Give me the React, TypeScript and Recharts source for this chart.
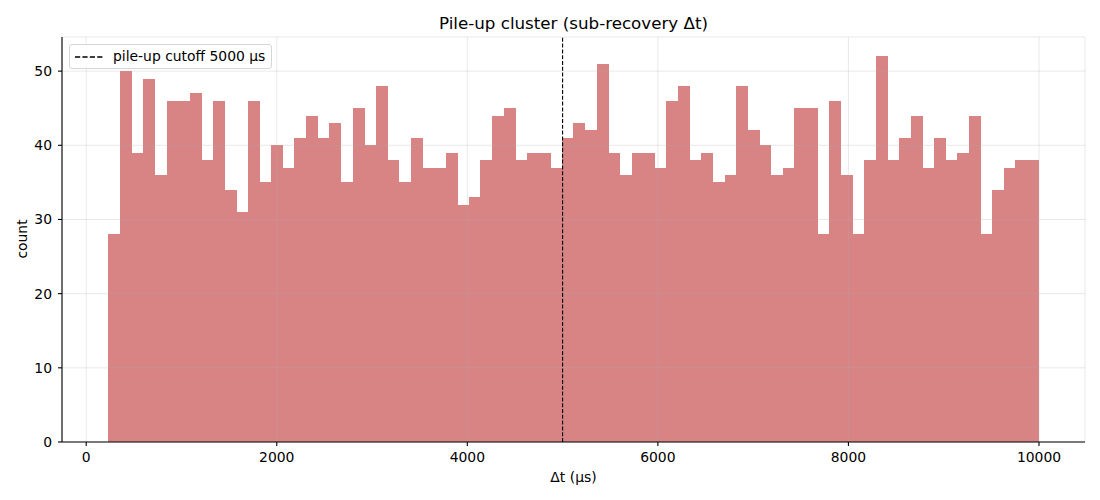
import {
  ComposedChart,
  Bar,
  XAxis,
  YAxis,
  CartesianGrid,
  ReferenceLine,
} from 'recharts';

const F = '"DejaVu Sans", sans-serif';

// histogram bins (left edge of first bin, bin width in µs)
const BIN_START = 234;
const BIN_WIDTH = 122;

const counts = [
  28, 50, 39, 49, 36, 46, 46, 47, 38, 46,
  34, 31, 46, 35, 40, 37, 41, 44, 41, 43,
  35, 45, 40, 48, 38, 35, 41, 37, 37, 39,
  32, 33, 38, 44, 45, 38, 39, 39, 37, 41,
  43, 42, 51, 39, 36, 39, 39, 37, 46, 48,
  38, 39, 35, 36, 48, 42, 40, 36, 37, 45,
  45, 28, 46, 36, 28, 38, 52, 38, 41, 44,
  37, 41, 38, 39, 44, 28, 34, 37, 38, 38,
];

const xTicks = [0, 2000, 4000, 6000, 8000, 10000];
const yTicks = [0, 10, 20, 30, 40, 50];
const X_DOMAIN: [number, number] = [-254, 10483];
const Y_DOMAIN: [number, number] = [0, 54.6];
const CUTOFF = 5000;

const W = 1090;
const H = 484;
const MARGIN = { top: 29, right: 13, bottom: 20, left: 14 };
const Y_AXIS_W = 40;
const X_AXIS_H = 30;

const data = counts.map((c, i) => ({ bin: BIN_START + i * BIN_WIDTH, count: c }));

// place the hidden band axis so bins line up with the numeric axis
const plotW = W - MARGIN.left - MARGIN.right - Y_AXIS_W;
const pxPerUnit = plotW / (X_DOMAIN[1] - X_DOMAIN[0]);
const binEnd = BIN_START + counts.length * BIN_WIDTH;
const padLeft = (BIN_START - X_DOMAIN[0]) * pxPerUnit;
const padRight = (X_DOMAIN[1] - binEnd) * pxPerUnit;

const tickStyle = { fontSize: 13.9, fill: '#000', fontFamily: F };

const Legend = () => (
  <div
    style={{
      position: 'absolute',
      left: 61,
      top: 36,
      width: 201,
      height: 23,
      border: '1px solid #d6d6d6',
      borderRadius: 3,
      background: 'rgba(255,255,255,0.8)',
      fontFamily: F,
      fontSize: 13.9,
      color: '#000',
    }}
  >
    <svg width={40} height={23} style={{ position: 'absolute', left: 0, top: 0 }}>
      <line x1={5} y1={12} x2={33} y2={12} stroke="#000" strokeWidth={1.4} strokeDasharray="5.2 2.2" />
    </svg>
    <span style={{ position: 'absolute', left: 43, top: 2, whiteSpace: 'nowrap', lineHeight: '18px' }}>
      pile-up cutoff 5000 μs
    </span>
  </div>
);

export default function App() {
  return (
    <div style={{ position: 'relative', width: W, height: H, fontFamily: F }}>
      <div
        style={{
          position: 'absolute',
          left: 0,
          width: 1131,
          top: 5,
          textAlign: 'center',
          fontSize: 16.7,
          lineHeight: '20px',
          color: '#000',
        }}
      >
        Pile-up cluster (sub-recovery Δt)
      </div>
      <ComposedChart
        width={W}
        height={H}
        data={data}
        margin={MARGIN}
        barCategoryGap={0}
        barGap={0}
      >
        <XAxis
          xAxisId="num"
          type="number"
          dataKey="bin"
          domain={X_DOMAIN}
          ticks={xTicks}
          allowDataOverflow
          height={X_AXIS_H}
          tick={tickStyle}
          tickSize={4}
          tickMargin={6}
          axisLine={{ stroke: '#000', strokeWidth: 1.1 }}
          tickLine={{ stroke: '#000', strokeWidth: 1.1 }}
        />
        <XAxis
          xAxisId="bins"
          dataKey="bin"
          type="category"
          hide
          height={0}
          padding={{ left: padLeft, right: padRight }}
        />
        <YAxis
          type="number"
          domain={Y_DOMAIN}
          ticks={yTicks}
          allowDataOverflow
          width={Y_AXIS_W}
          tick={tickStyle}
          tickSize={4}
          tickMargin={6}
          axisLine={{ stroke: '#000', strokeWidth: 1.1 }}
          tickLine={{ stroke: '#000', strokeWidth: 1.1 }}
        />
        <Bar
          dataKey="count"
          xAxisId="bins"
          fill="#d88384"
          shapeRendering="crispEdges"
          isAnimationActive={false}
        />
        <CartesianGrid
          xAxisId="num"
          stroke="#b0b0b0"
          strokeOpacity={0.35}
          strokeWidth={0.8}
          zIndex={350}
        />
        <ReferenceLine
          xAxisId="num"
          x={CUTOFF}
          stroke="#000"
          strokeWidth={1.1}
          strokeDasharray="4 1.8"
        />
      </ComposedChart>
      <Legend />
      <div
        style={{
          position: 'absolute',
          left: 0,
          width: 1131,
          top: 461,
          textAlign: 'center',
          fontSize: 13.9,
          lineHeight: '16px',
          color: '#000',
        }}
      >
        Δt (μs)
      </div>
      <div
        style={{
          position: 'absolute',
          left: 14,
          top: 231,
          transform: 'translate(-50%, -50%) rotate(-90deg)',
          fontSize: 13.9,
          lineHeight: '16px',
          color: '#000',
        }}
      >
        count
      </div>
    </div>
  );
}
